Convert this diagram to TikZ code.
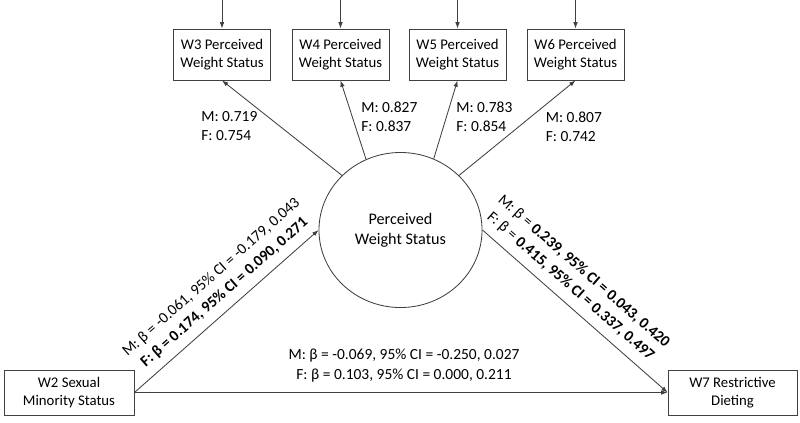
\documentclass[tikz,border=0pt]{standalone}
\usepackage{fontspec}
\setmainfont{Carlito}
\usepackage{tikz}
\usetikzlibrary{arrows.meta,calc,shapes.geometric}

\tikzset{
	indbox/.style={draw=black!75,line width=0.6pt,minimum width=2.425cm,minimum height=1.275cm,align=center,inner sep=1pt,font=\fontsize{10.5}{12.8}\selectfont},
	mainbox/.style={draw=black!75,line width=0.6pt,minimum width=3.25cm,minimum height=1.125cm,align=center,inner sep=1pt,font=\fontsize{10.5}{13.2}\selectfont},
	loadlbl/.style={anchor=west,align=left,inner sep=0pt,font=\fontsize{11}{13.5}\selectfont},
	pathlbl/.style={align=center,inner sep=0pt,font=\fontsize{11}{14.2}\selectfont},
	conn/.style={draw=black!75,line width=0.6pt,-{Latex[length=4.5pt,width=3.2pt]}},
}

\begin{document}
\begin{tikzpicture}[x=0.025cm,y=-0.025cm]
	\useasboundingbox (0,0) rectangle (800,422);
	% latent factor and its indicators
	\node[ellipse,draw=black!75,line width=0.6pt,minimum width=4.075cm,minimum height=3.875cm,align=center,font=\fontsize{11.5}{14.2}\selectfont] (pws) at (400.5,230) {Perceived\\Weight Status};
	\node[indbox] (w3) at (222,54.5) {W3 Perceived\\Weight Status};
	\node[indbox] (w4) at (340.5,54.5) {W4 Perceived\\Weight Status};
	\node[indbox] (w5) at (457.5,54.5) {W5 Perceived\\Weight Status};
	\node[indbox] (w6) at (575.5,54.5) {W6 Perceived\\Weight Status};
	\node[mainbox] (w2) at (69,392.5) {W2 Sexual\\Minority Status};
	\node[mainbox,minimum width=3.225cm] (w7) at (732.5,392.5) {W7 Restrictive\\Dieting};
	% residual arrows
	\foreach \w in {w3,w4,w5,w6}{
		\coordinate (e\w) at ($(\w.north)+(0,-28.5)$);
		\draw[conn] (e\w) -- (\w.north);
	}
	% loadings
	\draw[conn] (pws.137) -- (w3.south);
	\draw[conn] (pws.116) -- (w4.south);
	\draw[conn] (pws.65) -- (w5.south);
	\draw[conn] (pws.43) -- (w6.south);
	\node[loadlbl] (l3) at (201,126.5) {M: 0.719\\F: 0.754};
	\node[loadlbl] (l4) at (361,116.5) {M: 0.827\\F: 0.837};
	\node[loadlbl] (l5) at (456,116.5) {M: 0.783\\F: 0.854};
	\node[loadlbl] (l6) at (545.5,126.5) {M: 0.807\\F: 0.742};
	% structural paths
	\draw[conn] (w2.east) -- (pws.west) node[pathlbl,pos=0.545,sloped,above=6pt] (ap) {M: β = -0.061, 95\% CI = -0.179, 0.043\\\textbf{F: β = 0.174, 95\% CI = 0.090, 0.271}};
	\draw[conn] (pws.east) -- (w7.west) node[pathlbl,pos=0.42,sloped,above=6pt] (bp) {M: β = \textbf{0.239, 95\% CI = 0.043, 0.420}\\F: β = \textbf{0.415, 95\% CI = 0.337, 0.497}};
	\draw[conn] (w2.east) -- (w7.west);
	\node[pathlbl] (cp) at (404,366) {M: β = -0.069, 95\% CI = -0.250, 0.027\\F: β = 0.103, 95\% CI = 0.000, 0.211};
\end{tikzpicture}
\end{document}
